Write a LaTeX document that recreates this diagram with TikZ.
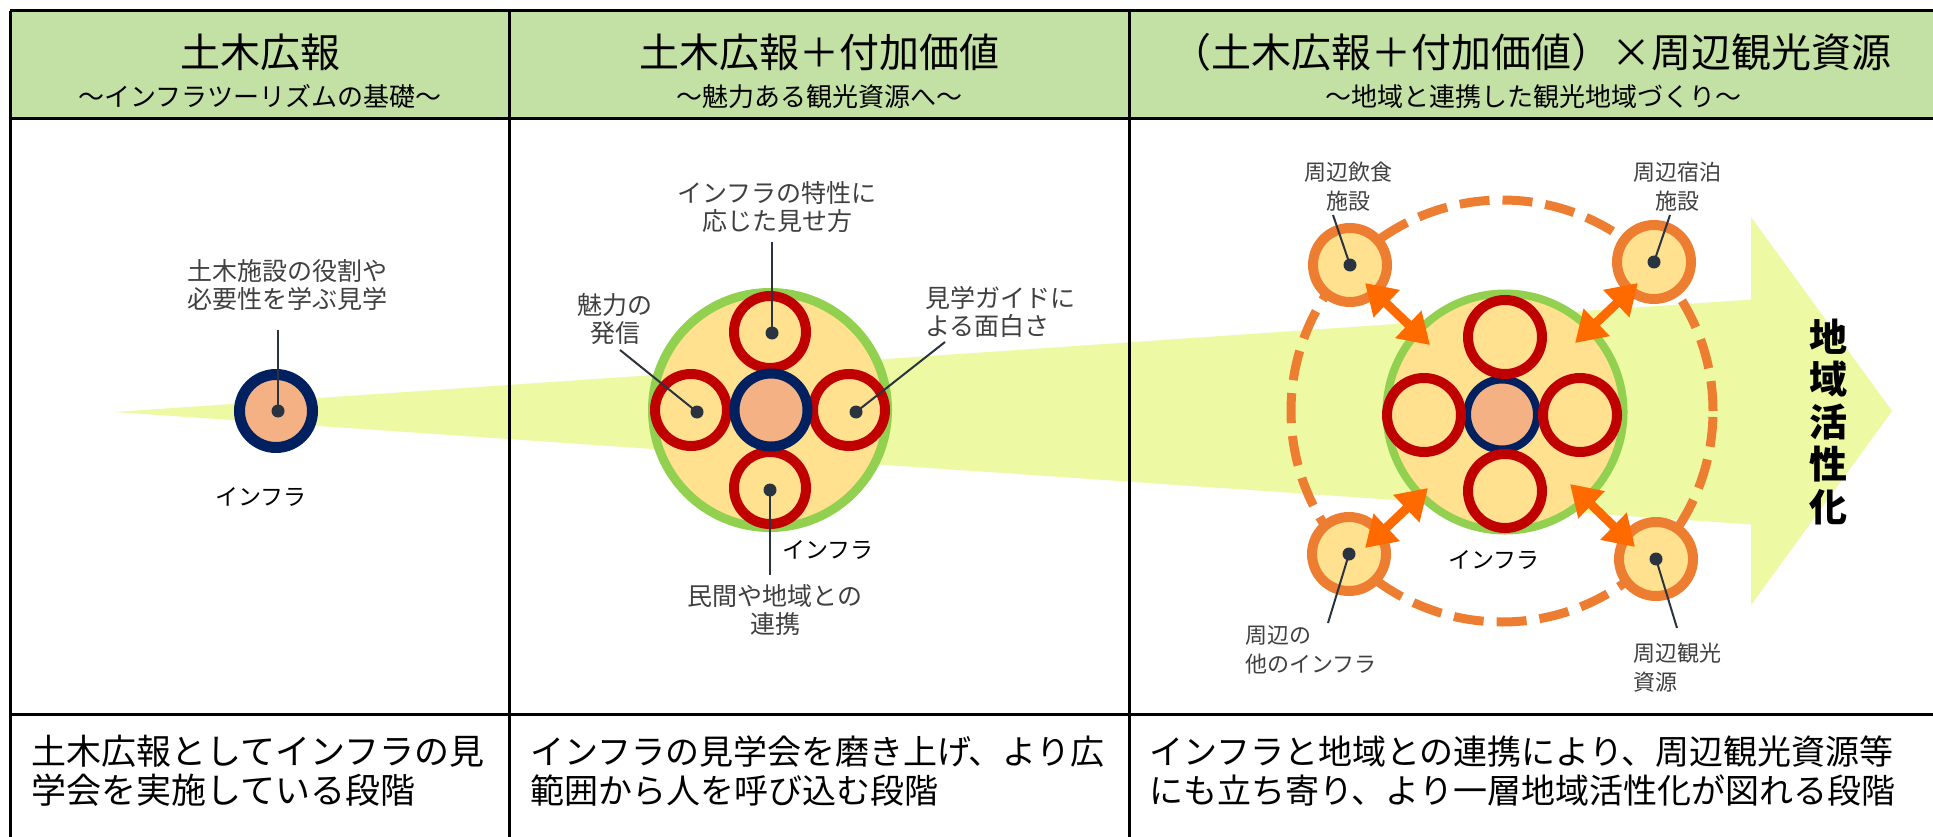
\documentclass[tikz,border=0pt]{standalone}
\usepackage{fontspec}
\setmainfont{Noto Sans CJK JP}
\usetikzlibrary{arrows.meta}
\definecolor{hdgreen}{HTML}{C4E1A5}
\definecolor{wedgecol}{HTML}{EDF9A3}
\definecolor{ringyellow}{HTML}{FFE18F}
\definecolor{greenring}{HTML}{92D050}
\definecolor{redring}{HTML}{C00000}
\definecolor{navyring}{HTML}{002060}
\definecolor{salmon}{HTML}{F4B183}
\definecolor{orangering}{HTML}{ED7D31}
\definecolor{orangearrow}{HTML}{FF6A00}
\definecolor{labelgray}{HTML}{404040}
\definecolor{leadercol}{HTML}{2A3340}
\tikzset{
  grid/.style={line width=3, black},
  hdtitle/.style={font=\fontsize{40}{48}\selectfont, inner sep=0},
  hdsub/.style={font=\fontsize{26}{30}\selectfont, inner sep=0},
  bottomtxt/.style={font=\fontsize{34}{39}\selectfont, align=left, anchor=west, inner sep=0},
  lbl/.style={font=\fontsize{25}{28}\selectfont, text=labelgray, align=center, inner sep=0},
  slbl/.style={font=\fontsize{22}{29}\selectfont, text=labelgray, align=center, inner sep=0},
  infra/.style={font=\fontsize{23}{28}\selectfont, inner sep=0},
  ringnode/.style={circle, inner sep=0, outer sep=0, fill=ringyellow},
  bigring/.style={ringnode, draw=greenring, line width=9, minimum size=235},
  redc/.style={ringnode, draw=redring, line width=10, minimum size=72},
  navyc/.style={ringnode, draw=navyring, fill=salmon, line width=10, minimum size=73},
  orangec/.style={ringnode, draw=orangering, line width=10, minimum size=74},
  dot/.style={circle, fill=leadercol, inner sep=0, minimum size=13},
  leader/.style={draw=leadercol, line width=2},
  oarrow/.style={draw=orangearrow, line width=9, {Triangle[length=30pt,width=36pt]}-{Triangle[length=30pt,width=36pt]}},
  dashcirc/.style={circle, inner sep=0, draw=orangering, line width=9, dash pattern=on 30pt off 13pt, minimum size=422}
}
\begin{document}
\begin{tikzpicture}[x=1pt,y=-1pt]
\useasboundingbox (0,0) rectangle (1933,837);
\fill[white] (0,0) rectangle (1933,837);
% header background
\fill[hdgreen] (10,11) rectangle (1933,119);
% growth wedge with arrow head
\fill[wedgecol] (115,412) -- (1751,299.6) -- (1751,217) -- (1892,411) -- (1751,605) -- (1751,524.4) -- cycle;
% table grid
\draw[grid] (10,11) -- (1933,11);
\draw[grid] (10,11) -- (10,837);
\draw[grid] (509,11) -- (509,837);
\draw[grid] (1129,11) -- (1129,837);
\draw[grid] (10,119) -- (1933,119);
\draw[grid] (10,714) -- (1933,714);
% header texts
\node[hdtitle] (h1) at (260,52) {土木広報};
\node[hdsub] (s1) at (260,97) {～インフラツーリズムの基礎～};
\node[hdtitle] (h2) at (819,52) {土木広報＋付加価値};
\node[hdsub] (s2) at (819,97) {～魅力ある観光資源へ～};
\node[hdtitle] (h3) at (1531,52) {（土木広報＋付加価値）×周辺観光資源};
\node[hdsub] (s3) at (1533,97) {～地域と連携した観光地域づくり～};
% bottom texts
\node[bottomtxt, font=\fontsize{35}{39}\selectfont] (b1) at (31,771) {土木広報としてインフラの見\\学会を実施している段階};
\node[bottomtxt] (b2) at (530,771) {インフラの見学会を磨き上げ、より広\\範囲から人を呼び込む段階};
\node[bottomtxt] (b3) at (1149,771) {インフラと地域との連携により、周辺観光資源等\\にも立ち寄り、より一層地域活性化が図れる段階};
% ---------- column 1
\node[navyc, line width=11] (n1) at (276,411) {};
\node[dot] (d1) at (278,411) {};
\coordinate (e1) at (278,330);
\draw[leader] (d1.center) -- (e1);
\node[lbl] (t1) at (287,285.5) {土木施設の役割や\\必要性を学ぶ見学};
\node[infra] (i1) at (261,497) {インフラ};
% ---------- column 2
\node[bigring] (g2) at (770,410) {};
\node[redc] (r2t) at (770,332) {};
\node[redc] (r2l) at (691,410) {};
\node[redc] (r2r) at (849,410) {};
\node[redc] (r2b) at (770,488) {};
\node[navyc] (n2) at (771,410) {};
\node[dot] (d2t) at (772,333) {};
\node[dot] (d2l) at (697,412) {};
\node[dot] (d2r) at (856,412) {};
\node[dot] (d2b) at (770,490) {};
\coordinate (e2t) at (772,242);
\coordinate (e2l) at (620,350);
\coordinate (e2r) at (945,342);
\coordinate (e2b) at (770,575);
\draw[leader] (d2t.center) -- (e2t);
\draw[leader] (d2l.center) -- (e2l);
\draw[leader] (d2r.center) -- (e2r);
\draw[leader] (d2b.center) -- (e2b);
\node[lbl] (t2t) at (777,207) {インフラの特性に\\応じた見せ方};
\node[lbl] (t2l) at (615,319) {魅力の\\発信};
\node[lbl, align=left, anchor=west] (t2r) at (925,311.5) {見学ガイドに\\よる面白さ};
\node[lbl] (t2b) at (775,610) {民間や地域との\\連携};
\node[infra] (i2) at (828,550) {インフラ};
% ---------- column 3
\node[dashcirc] (dc) at (1502,411) {};
\node[bigring, line width=8, minimum size=237] (g3) at (1505,412) {};
\node[navyc, line width=8, minimum size=70] (n3) at (1502,414.5) {};
\node[redc, minimum size=74] (r3t) at (1505,337) {};
\node[redc, minimum size=74] (r3l) at (1424,415) {};
\node[redc, minimum size=74] (r3r) at (1580,415) {};
\node[redc, minimum size=74] (r3b) at (1505,491) {};
\node[orangec] (o1) at (1350,265) {};
\node[orangec] (o2) at (1654,262) {};
\node[orangec] (o3) at (1349,554) {};
\node[orangec] (o4) at (1656,559) {};
\node[dot] (d3a) at (1350,265) {};
\node[dot] (d3b) at (1654,262) {};
\node[dot] (d3c) at (1349,554) {};
\node[dot] (d3d) at (1656,559) {};
\coordinate (e3a) at (1333,215);
\coordinate (e3b) at (1670,215);
\coordinate (e3c) at (1328,623);
\coordinate (e3d) at (1677,628);
\draw[leader] (d3a.center) -- (e3a);
\draw[leader] (d3b.center) -- (e3b);
\draw[leader] (d3c.center) -- (e3c);
\draw[leader] (d3d.center) -- (e3d);
\node[slbl] (t3a) at (1348,187) {周辺飲食\\施設};
\node[slbl] (t3b) at (1677,187) {周辺宿泊\\施設};
\node[slbl, align=left, anchor=west] (t3c) at (1245,650) {周辺の\\他のインフラ};
\node[slbl, align=left, anchor=west] (t3d) at (1633,668) {周辺観光\\資源};
\node[infra] (i3) at (1494,560) {インフラ};
% double arrows
\coordinate (a1s) at (1365,283); \coordinate (a1e) at (1430,345);
\coordinate (a2s) at (1638,283); \coordinate (a2e) at (1575,343);
\coordinate (a3s) at (1365,548); \coordinate (a3e) at (1428,488);
\coordinate (a4s) at (1635,547); \coordinate (a4e) at (1570,484);
\draw[oarrow] (a1s) -- (a1e);
\draw[oarrow] (a2s) -- (a2e);
\draw[oarrow] (a3s) -- (a3e);
\draw[oarrow] (a4s) -- (a4e);
% vertical text
\node[font=\fontsize{38}{42.5}\selectfont\bfseries, align=center, inner sep=0] (v) at (1828,422) {地\\域\\活\\性\\化};
\end{tikzpicture}
\end{document}
